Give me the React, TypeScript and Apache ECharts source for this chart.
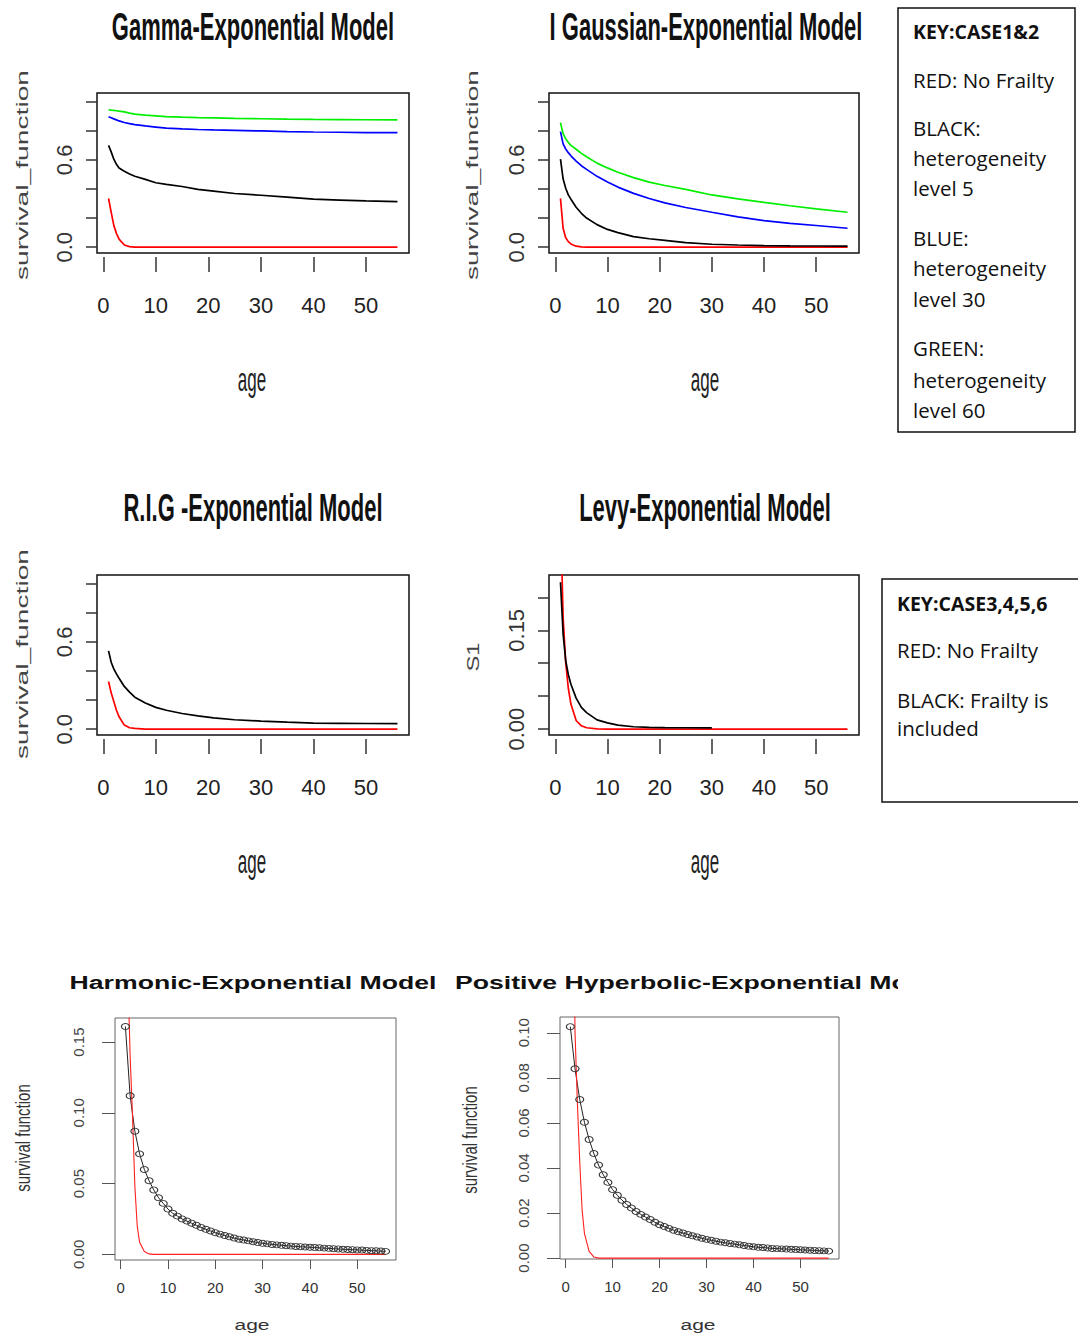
import React, { useEffect, useRef } from "react";
import * as echarts from "echarts";

// ---------- data ----------
const ages = [1, 1.5, 2, 2.5, 3, 4, 5, 6, 8, 10, 12, 15, 18, 21, 25, 30, 35, 40, 45, 50, 56];

const gammaRed = [0.336, 0.24, 0.15, 0.095, 0.055, 0.015, 0.004, 0.001, 0, 0, 0, 0, 0, 0, 0, 0, 0, 0, 0, 0, 0];
const gammaBlack = [0.7, 0.655, 0.605, 0.57, 0.545, 0.522, 0.503, 0.488, 0.466, 0.443, 0.432, 0.417, 0.398, 0.386, 0.369, 0.357, 0.344, 0.33, 0.324, 0.318, 0.313];
const gammaBlue = [0.897, 0.89, 0.882, 0.875, 0.868, 0.857, 0.849, 0.843, 0.834, 0.826, 0.818, 0.813, 0.809, 0.806, 0.803, 0.799, 0.795, 0.792, 0.79, 0.788, 0.787];
const gammaGreen = [0.945, 0.942, 0.94, 0.938, 0.935, 0.93, 0.922, 0.915, 0.908, 0.903, 0.898, 0.894, 0.891, 0.889, 0.886, 0.883, 0.88, 0.878, 0.877, 0.876, 0.875];

const igRed = [0.336, 0.13, 0.065, 0.038, 0.022, 0.007, 0.002, 0.0005, 0, 0, 0, 0, 0, 0, 0, 0, 0, 0, 0, 0, 0];
const igBlack = [0.606, 0.47, 0.405, 0.36, 0.33, 0.275, 0.233, 0.2, 0.155, 0.122, 0.1, 0.073, 0.058, 0.047, 0.031, 0.02, 0.015, 0.011, 0.009, 0.008, 0.007];
const igBlue = [0.794, 0.71, 0.675, 0.65, 0.628, 0.592, 0.56, 0.535, 0.487, 0.448, 0.413, 0.37, 0.335, 0.305, 0.273, 0.24, 0.208, 0.183, 0.164, 0.149, 0.13];
const igGreen = [0.856, 0.78, 0.745, 0.72, 0.7, 0.673, 0.645, 0.622, 0.578, 0.545, 0.515, 0.478, 0.447, 0.424, 0.397, 0.359, 0.332, 0.308, 0.285, 0.263, 0.24];

const rigRed = [0.328, 0.25, 0.19, 0.13, 0.085, 0.028, 0.01, 0.005, 0.001, 0, 0, 0, 0, 0, 0, 0, 0, 0, 0, 0, 0];
const rigBlack = [0.538, 0.46, 0.415, 0.38, 0.35, 0.294, 0.255, 0.22, 0.18, 0.15, 0.13, 0.108, 0.092, 0.078, 0.065, 0.056, 0.048, 0.041, 0.04, 0.039, 0.038];

const levyRed = [0.33, 0.17, 0.101, 0.062, 0.038, 0.013, 0.005, 0.002, 0.0003, 0, 0, 0, 0, 0, 0, 0, 0, 0, 0, 0, 0];
const levyBlack = [0.223, 0.145, 0.104, 0.083, 0.068, 0.047, 0.033, 0.025, 0.014, 0.0095, 0.006, 0.0035, 0.0025, 0.0022, 0.002, 0.0018];

const intAges = [1, 2, 3, 4, 5, 6, 7, 8, 9, 10, 11, 12, 13, 14, 15, 16, 17, 18, 19, 20, 21, 22, 23, 24, 25, 26, 27, 28, 29, 30, 31, 32, 33, 34, 35, 36, 37, 38, 39, 40, 41, 42, 43, 44, 45, 46, 47, 48, 49, 50, 51, 52, 53, 54, 55, 56];
const harmonicBlack = [0.161, 0.112, 0.087, 0.071, 0.06, 0.052, 0.0455, 0.04, 0.036, 0.032, 0.029, 0.027, 0.025, 0.0235, 0.022, 0.0205, 0.019, 0.0177, 0.0165, 0.0153, 0.0143, 0.0133, 0.0124, 0.0115, 0.0107, 0.0101, 0.0095, 0.0089, 0.0083, 0.0078, 0.0074, 0.007, 0.0067, 0.0064, 0.0061, 0.0058, 0.0056, 0.0054, 0.0052, 0.005, 0.0048, 0.0046, 0.0044, 0.0042, 0.004, 0.0038, 0.0036, 0.0034, 0.0033, 0.0031, 0.003, 0.0028, 0.0026, 0.0025, 0.0023, 0.0021];
const hyperBlack = [0.1027, 0.084, 0.0704, 0.0603, 0.0526, 0.0464, 0.0413, 0.037, 0.0336, 0.0304, 0.0279, 0.0257, 0.0238, 0.0222, 0.0207, 0.0194, 0.0182, 0.0171, 0.0159, 0.0148, 0.014, 0.0132, 0.0124, 0.0117, 0.0111, 0.0105, 0.0099, 0.0094, 0.0088, 0.0083, 0.0079, 0.0075, 0.0071, 0.0068, 0.0065, 0.0062, 0.0059, 0.0056, 0.0053, 0.005, 0.0048, 0.0047, 0.0045, 0.0043, 0.0042, 0.0041, 0.004, 0.0039, 0.0038, 0.0037, 0.0036, 0.0035, 0.0034, 0.0033, 0.0032, 0.0031];
const redAges = [1, 1.5, 2, 2.5, 3, 3.5, 4, 5, 6, 7, 56];
const harmonicRed = [0.3, 0.2, 0.14, 0.098, 0.048, 0.02, 0.0085, 0.002, 0.0003, 0, 0];
const hyperRed = [0.3, 0.18, 0.1, 0.069, 0.043, 0.0215, 0.011, 0.003, 0.0005, 0, 0];

const ageTicks = [0, 10, 20, 30, 40, 50];
const survTicks = [0, 0.2, 0.4, 0.6, 0.8, 1.0];
const survLabels = [0, 0.6];
const levyTicks = [0, 0.05, 0.1, 0.15, 0.2];
const levyLabels = [0, 0.15];
const harmonicTicks = [0, 0.05, 0.1, 0.15];
const hyperTicks = [0, 0.02, 0.04, 0.06, 0.08, 0.1];

const titles = [
  "Gamma-Exponential Model",
  "I Gaussian-Exponential Model",
  "R.I.G -Exponential Model",
  "Levy-Exponential Model",
  "Harmonic-Exponential Model",
  "Positive Hyperbolic-Exponential Model",
];

const key1 = ["KEY:CASE1&2", "RED: No Frailty", "BLACK:", "heterogeneity", "level 5", "BLUE:", "heterogeneity", "level 30", "GREEN:", "heterogeneity", "level 60"];
const key2 = ["KEY:CASE3,4,5,6", "RED: No Frailty", "BLACK: Frailty is", "included"];

// ---------- helpers ----------
const pairs = (xs: number[], ys: number[]) => ys.map((v, i) => [xs[i], v]);
const TOPFONT = "'Liberation Sans Narrow', 'Arial Narrow', 'Liberation Sans', Arial, sans-serif";
const SANS = "'Liberation Sans', Arial, sans-serif";

function topX(gridIndex: number) {
  return {
    gridIndex,
    type: "value",
    min: -1.2,
    max: 58.2,
    offset: 4,
    axisLine: { show: false, onZero: false },
    axisTick: { show: true, length: 15, customValues: ageTicks, lineStyle: { color: "#333", width: 1.5 } },
    axisLabel: { customValues: ageTicks, margin: 37, fontSize: 22, color: "#222", fontFamily: TOPFONT },
    splitLine: { show: false },
  };
}
function topY(gridIndex: number, min: number, max: number, ticks: number[], labels: number[], digits: number) {
  return {
    gridIndex,
    type: "value",
    min,
    max,
    axisLine: { show: false, onZero: false },
    axisTick: { show: true, length: 11, customValues: ticks, lineStyle: { color: "#333", width: 1.5 } },
    axisLabel: {
      customValues: labels,
      rotate: 90,
      margin: 22,
      fontSize: 22,
      color: "#333",
      fontFamily: TOPFONT,
      formatter: (v: number) => v.toFixed(digits),
    },
    splitLine: { show: false },
  };
}
function botX(gridIndex: number) {
  return {
    gridIndex,
    type: "value",
    min: -1.2,
    max: 58.2,
    axisLine: { show: false, onZero: false },
    axisTick: { show: true, length: 9, customValues: ageTicks, lineStyle: { color: "#555", width: 1 } },
    axisLabel: { customValues: ageTicks, margin: 20, fontSize: 15, color: "#333", fontFamily: SANS },
    splitLine: { show: false },
  };
}
function botY(gridIndex: number, min: number, max: number, ticks: number[]) {
  return {
    gridIndex,
    type: "value",
    min,
    max,
    axisLine: { show: false, onZero: false },
    axisTick: { show: true, length: 13, customValues: ticks, lineStyle: { color: "#555", width: 1 } },
    axisLabel: {
      customValues: ticks,
      rotate: 90,
      margin: 29,
      fontSize: 15,
      color: "#444",
      fontFamily: SANS,
      formatter: (v: number) => v.toFixed(2),
    },
    splitLine: { show: false },
  };
}
function topLine(idx: number, xs: number[], ys: number[], color: string) {
  return {
    type: "line",
    xAxisIndex: idx,
    yAxisIndex: idx,
    data: pairs(xs, ys),
    symbol: "none",
    showSymbol: false,
    silent: true,
    clip: true,
    lineStyle: { color, width: 1.7 },
    itemStyle: { color },
  };
}

export default function App() {
  const ref = useRef<HTMLDivElement>(null);
  useEffect(() => {
    if (!ref.current) return;
    const chart = echarts.init(ref.current, null, { renderer: "svg" });

    const titleTop = (text: string, x: number, y: number) => ({
      type: "text",
      x,
      y,
      scaleY: 1.75,
      style: { text, fontSize: 22, fontWeight: "bold", fontFamily: SANS, fill: "#111", align: "center", verticalAlign: "middle" },
    });
    const yName = (text: string, x: number, y: number, fs: number, sx: number, sy: number, color: string) => ({
      type: "text",
      x,
      y,
      rotation: Math.PI / 2,
      scaleX: sx,
      scaleY: sy,
      style: { text, fontSize: fs, fontFamily: SANS, fill: color, align: "center", verticalAlign: "middle" },
    });
    const xName = (x: number, y: number, fs: number, sx: number, sy: number, color: string) => ({
      type: "text",
      x,
      y,
      scaleX: sx,
      scaleY: sy,
      style: { text: "age", fontSize: fs, fontFamily: SANS, fill: color, align: "center", verticalAlign: "middle" },
    });
    const keyText = (text: string, x: number, y: number, bold: boolean) => ({
      type: "text",
      x,
      y,
      style: {
        text,
        fontSize: bold ? 19.5 : 20.5,
        fontWeight: bold ? "bold" : "normal",
        fontFamily: "'Open Sans', 'Lato', sans-serif",
        fill: "#111",
        align: "left",
        verticalAlign: "middle",
      },
    });
    const key1Y = [31, 80, 128, 158, 188, 238, 268, 299, 348, 380, 410];
    const key2Y = [603, 650, 700, 728];

    const graphic: any[] = [
      titleTop(titles[0], 253, 27),
      titleTop(titles[1], 706, 27),
      titleTop(titles[2], 253, 508),
      titleTop(titles[3], 705, 508),
      {
        type: "text",
        x: 253,
        y: 983,
        scaleX: 1.48,
        style: { text: titles[4], fontSize: 18, fontWeight: "bold", fontFamily: SANS, fill: "#111", align: "center", verticalAlign: "middle" },
      },
      {
        type: "text",
        x: 455,
        y: 983,
        scaleX: 1.48,
        style: { text: titles[5], fontSize: 18, fontWeight: "bold", fontFamily: SANS, fill: "#111", align: "left", verticalAlign: "middle" },
      },
      { type: "rect", shape: { x: 898, y: 965, width: 180, height: 36 }, style: { fill: "#fff" }, z: 100 },
      yName("survival_function", 22, 175, 17, 1.66, 1, "#444"),
      yName("survival_function", 472, 175, 17, 1.66, 1, "#444"),
      yName("survival_function", 22, 654, 17, 1.66, 1, "#444"),
      yName("S1", 473, 657, 17, 1.4, 1, "#444"),
      yName("survival function", 23, 1138, 15, 1, 1.35, "#333"),
      yName("survival function", 470, 1140, 15, 1, 1.35, "#333"),
      xName(252, 380, 17, 1, 2, "#222"),
      xName(705, 380, 17, 1, 2, "#222"),
      xName(252, 862, 17, 1, 2, "#222"),
      xName(705, 862, 17, 1, 2, "#222"),
      xName(252, 1325, 15, 1.4, 1, "#333"),
      xName(698, 1325, 15, 1.4, 1, "#333"),
      { type: "rect", shape: { x: 898, y: 8, width: 177, height: 424 }, style: { fill: "#fff", stroke: "#111", lineWidth: 1.5 } },
      { type: "rect", shape: { x: 882, y: 579, width: 220, height: 223 }, style: { fill: "#fff", stroke: "#111", lineWidth: 1.5 } },
      ...key1.map((t, i) => keyText(t, 913, key1Y[i], i === 0)),
      ...key2.map((t, i) => keyText(t, 897, key2Y[i], i === 0)),
    ];

    const gridBase = { show: true, borderColor: "#111", borderWidth: 1.5, backgroundColor: "transparent", containLabel: false };
    const option: any = {
      animation: false,
      backgroundColor: "#fff",
      grid: [
        { ...gridBase, left: 97, top: 93, width: 312, height: 160 },
        { ...gridBase, left: 549, top: 93, width: 310, height: 160 },
        { ...gridBase, left: 97, top: 575, width: 312, height: 160 },
        { ...gridBase, left: 549, top: 575, width: 310, height: 160 },
        { ...gridBase, borderColor: "#666", borderWidth: 1, left: 115, top: 1018, width: 281, height: 242 },
        { ...gridBase, borderColor: "#666", borderWidth: 1, left: 560, top: 1017, width: 279, height: 242 },
      ],
      xAxis: [topX(0), topX(1), topX(2), topX(3), botX(4), botX(5)],
      yAxis: [
        topY(0, -0.04, 1.06, survTicks, survLabels, 1),
        topY(1, -0.04, 1.06, survTicks, survLabels, 1),
        topY(2, -0.04, 1.06, survTicks, survLabels, 1),
        topY(3, -0.009, 0.234, levyTicks, levyLabels, 2),
        botY(4, -0.004, 0.167, harmonicTicks),
        botY(5, -0.0004, 0.107, hyperTicks),
      ],
      series: [
        topLine(0, ages, gammaRed, "#ff0000"),
        topLine(0, ages, gammaBlack, "#000000"),
        topLine(0, ages, gammaBlue, "#0000ff"),
        topLine(0, ages, gammaGreen, "#00ee00"),
        topLine(1, ages, igRed, "#ff0000"),
        topLine(1, ages, igBlack, "#000000"),
        topLine(1, ages, igBlue, "#0000ff"),
        topLine(1, ages, igGreen, "#00ee00"),
        topLine(2, ages, rigRed, "#ff0000"),
        topLine(2, ages, rigBlack, "#000000"),
        topLine(3, ages, levyRed, "#ff0000"),
        topLine(3, ages, levyBlack, "#000000"),
        {
          type: "line",
          xAxisIndex: 4,
          yAxisIndex: 4,
          data: pairs(intAges, harmonicBlack),
          symbol: "circle",
          symbolSize: [8, 6],
          silent: true,
          lineStyle: { color: "#222", width: 1 },
          itemStyle: { color: "transparent", borderColor: "#333", borderWidth: 1 },
        },
        {
          type: "line",
          xAxisIndex: 4,
          yAxisIndex: 4,
          data: pairs(redAges, harmonicRed),
          symbol: "none",
          silent: true,
          clip: true,
          lineStyle: { color: "#ff2020", width: 1.1 },
          itemStyle: { color: "#ff2020" },
        },
        {
          type: "line",
          xAxisIndex: 5,
          yAxisIndex: 5,
          data: pairs(intAges, hyperBlack),
          symbol: "circle",
          symbolSize: [8, 6],
          silent: true,
          lineStyle: { color: "#222", width: 1 },
          itemStyle: { color: "transparent", borderColor: "#333", borderWidth: 1 },
        },
        {
          type: "line",
          xAxisIndex: 5,
          yAxisIndex: 5,
          data: pairs(redAges, hyperRed),
          symbol: "none",
          silent: true,
          clip: true,
          lineStyle: { color: "#ff2020", width: 1.1 },
          itemStyle: { color: "#ff2020" },
        },
      ],
      graphic,
    };
    chart.setOption(option);
    return () => chart.dispose();
  }, []);
  return <div ref={ref} style={{ position: "absolute", left: 0, top: 0, width: 1078, height: 1335 }} />;
}
